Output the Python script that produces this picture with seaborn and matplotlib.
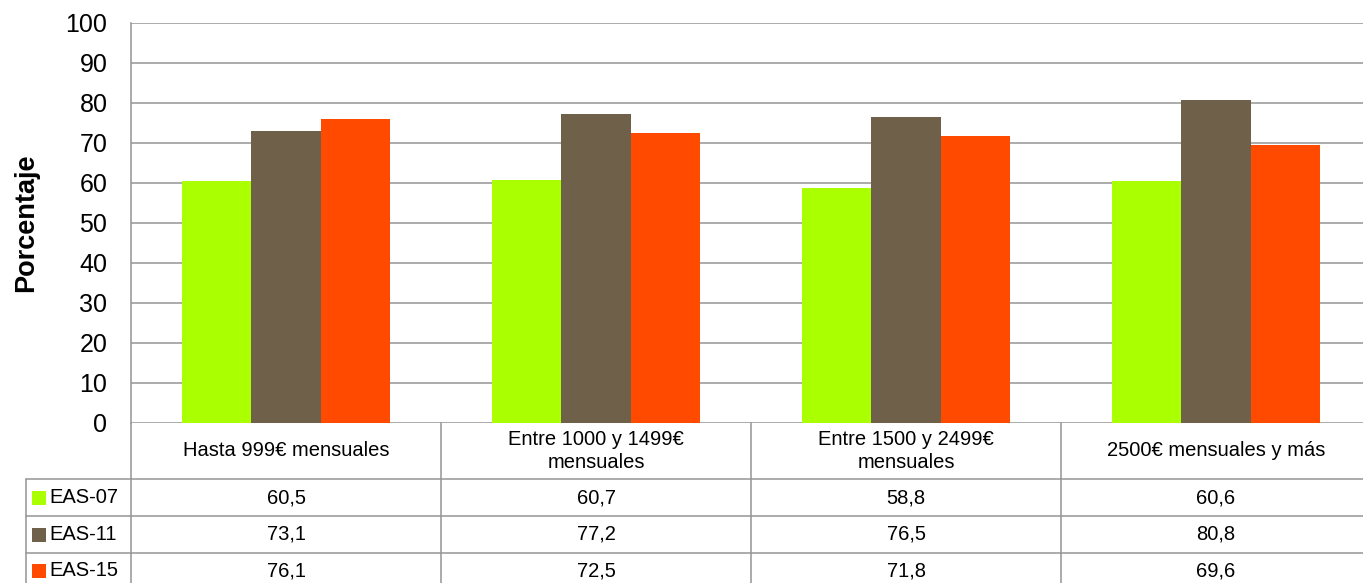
import pandas as pd
import seaborn as sns
import matplotlib.pyplot as plt
from matplotlib.transforms import blended_transform_factory

categories = ['Hasta 999€ mensuales', 'Entre 1000 y 1499€\nmensuales',
              'Entre 1500 y 2499€\nmensuales', '2500€ mensuales y más']
series = ['EAS-07', 'EAS-11', 'EAS-15']
eas07 = [60.5, 60.7, 58.8, 60.6]
eas11 = [73.1, 77.2, 76.5, 80.8]
eas15 = [76.1, 72.5, 71.8, 69.6]
colors = ['#AAFF00', '#6F604A', '#FF4A00']


def fmt(v):
    return f'{v:.1f}'.replace('.', ',')


def main():
    values = [eas07, eas11, eas15]
    rows = []
    for s, vals in zip(series, values):
        for c, v in zip(categories, vals):
            rows.append({'Categoria': c, 'Serie': s, 'Valor': v})
    df = pd.DataFrame(rows)

    sns.set_style('white')
    plt.rcParams['font.family'] = ['Liberation Sans', 'DejaVu Sans']
    grid_col = '#959595'

    fig = plt.figure(figsize=(13.63, 5.83), dpi=100)
    # plot area runs slightly past the right edge, like the original
    ax = fig.add_axes([131 / 1363, 1 - 423 / 583, 1240 / 1363, 400 / 583])

    sns.barplot(data=df, x='Categoria', y='Valor', hue='Serie', palette=colors,
                width=0.668, ax=ax, legend=False, saturation=1, zorder=3,
                edgecolor='none')
    ax.set_ylim(0, 100)
    ax.set_xlim(-0.5, 3.5)
    ax.set_yticks(range(0, 101, 10))
    ax.yaxis.grid(True, color=grid_col, linewidth=1.1, zorder=0)
    ax.set_axisbelow(True)
    for side in ['top', 'right', 'bottom']:
        ax.spines[side].set_visible(False)
    ax.spines['left'].set_color(grid_col)
    ax.spines['left'].set_linewidth(1.1)
    ax.tick_params(axis='y', length=0, pad=17, labelsize=18, labelcolor='black')
    ax.set_xticks([])
    ax.set_xlabel('')
    ax.set_ylabel('Porcentaje', fontsize=19.5, fontweight='bold', labelpad=19,
                  color='black')

    # data table under the chart
    tr = blended_transform_factory(ax.transData, ax.transAxes)
    px = 1 / 400  # axes height in pixels
    y_rows = [0, -56 * px, -93 * px, -130 * px, -160 * px]
    x_left = -0.5 - 105 / 310
    lk = dict(color=grid_col, linewidth=1.1, transform=tr, clip_on=False)

    for i in range(len(categories) + 1):
        ax.plot([i - 0.5, i - 0.5], [y_rows[0], y_rows[-1]], **lk)
    ax.plot([x_left, x_left], [y_rows[1], y_rows[-1]], **lk)
    for y in y_rows[1:4]:
        ax.plot([x_left, 3.6], [y, y], **lk)

    for i, c in enumerate(categories):
        ax.text(i, (y_rows[0] + y_rows[1]) / 2, c, transform=tr, ha='center',
                va='center', fontsize=14.5, linespacing=1.22, color='black')

    for r, (s, vals, col) in enumerate(zip(series, values, colors)):
        yc = (y_rows[r + 1] + y_rows[r + 2]) / 2
        if r == 2:
            yc = y_rows[3] - 18 * px
        ax.scatter([x_left + 13 / 310], [yc], marker='s', s=95, color=col,
                   transform=tr, clip_on=False, linewidths=0)
        ax.text(x_left + 23 / 310, yc, s, transform=tr, ha='left', va='center',
                fontsize=14.5, color='black')
        for i, v in enumerate(vals):
            ax.text(i, yc, fmt(v), transform=tr, ha='center', va='center',
                    fontsize=14.5, color='black')

    fig.savefig('out.png', dpi=100)
    plt.close(fig)


if __name__ == "__main__":
    main()
